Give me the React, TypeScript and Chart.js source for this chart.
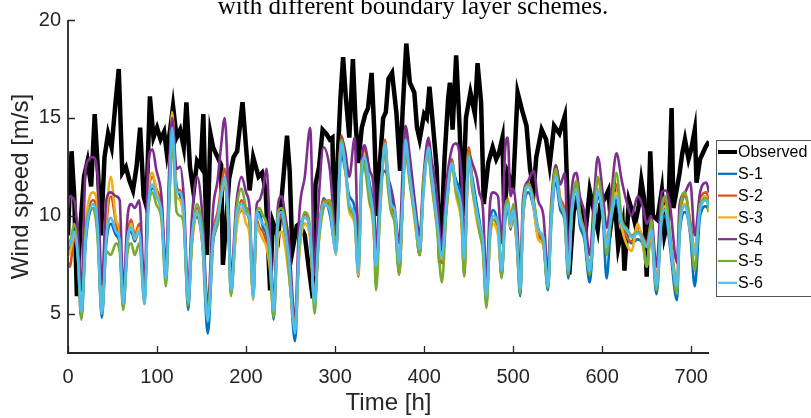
import React, { useEffect, useRef } from "react";
import { Chart, registerables } from "chart.js";

Chart.register(...registerables);

const titleText = "with different boundary layer schemes.";
const xTitle = "Time [h]";
const yTitle = "Wind speed [m/s]";
const xTicks = [0, 100, 200, 300, 400, 500, 600, 700];
const yTicks = [5, 10, 15, 20];
const seriesNames = ["Observed", "S-1", "S-2", "S-3", "S-4", "S-5", "S-6"];
const seriesColors = ["#000000", "#0072BD", "#D95319", "#EDB120", "#7E2F8E", "#77AC30", "#4DBEEE"];

const obsHours = [
  0, 2, 4, 7, 10, 14, 18, 22, 26, 30,
  34, 37, 41, 45, 49, 53, 57, 61, 65, 69,
  73, 77, 81, 85, 88, 92, 96, 100, 104, 108,
  111, 115, 118, 122, 126, 130, 133, 137, 141, 145,
  149, 152, 156, 160, 163, 168, 172, 174, 179, 181,
  186, 190, 196, 200, 204, 208, 214, 218, 222, 227,
  230, 236, 242, 246, 249, 252, 257, 260, 266, 270,
  275, 278, 282, 286, 290, 294, 297, 299, 303, 306,
  309, 312, 316, 320, 323, 326, 330, 334, 337, 341,
  344, 347, 350, 354, 357, 360, 364, 369, 373, 376,
  380, 384, 389, 392, 395, 400, 403, 406, 410, 414,
  418, 423, 427, 429, 432, 436, 440, 443, 447, 452,
  457, 460, 464, 467, 472, 477, 481, 484, 488, 490,
  494, 500, 505, 510, 515, 519, 523, 526, 532, 537,
  541, 546, 552, 558, 561, 563, 568, 573, 578, 582,
  586, 591, 595, 598, 602, 607, 610, 614, 618, 623,
  625, 630, 634, 637, 641, 644, 647, 650, 654, 657,
  662, 667, 670, 674, 678, 680, 684, 687, 690, 693,
  697, 700, 704, 706, 710, 713, 716, 720,
];

const observed = [
  9.0, 11.5, 13.3, 11.0, 5.9, 9.5, 12.0, 12.8, 11.5, 15.2,
  12.0, 9.0, 13.0, 14.2, 13.5, 15.6, 17.5, 12.2, 12.5, 11.8,
  11.3, 12.5, 14.5, 11.0, 10.5, 16.1, 14.0, 14.5, 13.9, 14.3,
  13.2, 14.5, 15.6, 14.0, 14.4, 13.5, 15.8, 12.5, 11.2, 12.8,
  12.5, 15.2, 8.0, 14.2, 13.5, 13.0, 12.6, 7.5, 10.5, 11.9,
  13.0, 13.3, 15.8, 13.5, 11.3, 13.0, 12.0, 12.2, 11.3, 6.2,
  9.7, 8.9, 12.0, 14.1, 12.3, 8.2, 9.5, 9.6, 9.0, 7.5,
  5.8, 11.6, 12.5, 14.4, 14.2, 13.9, 14.0, 9.3, 13.0, 16.0,
  18.1, 16.1, 14.0, 18.0, 14.8, 12.7, 14.5, 15.2, 15.5, 17.3,
  14.4, 10.0, 12.5, 15.0, 15.3, 17.0, 17.3, 15.2, 12.3, 15.5,
  18.8, 16.8, 16.3, 14.5, 13.9, 15.2, 15.0, 16.6, 14.6, 12.5,
  7.6, 13.0, 16.0, 16.8, 14.4, 18.2, 14.4, 10.0, 15.0, 16.3,
  15.2, 17.8, 15.8, 10.6, 12.7, 13.5, 12.9, 13.2, 14.0, 10.2,
  12.2, 11.5, 16.3, 15.4, 14.6, 12.4, 11.3, 13.0, 14.4, 13.9,
  12.6, 14.6, 14.2, 15.1, 11.0, 7.0, 10.2, 11.0, 10.0, 9.5,
  11.3, 10.2, 9.3, 10.6, 10.8, 11.3, 9.6, 10.9, 8.4, 9.6,
  7.2, 10.8, 10.2, 9.6, 10.5, 11.8, 10.9, 6.9, 13.3, 10.0,
  9.8, 11.3, 9.0, 9.8, 15.5, 10.4, 11.4, 12.2, 13.2, 13.9,
  12.9, 13.4, 14.4, 11.7, 12.9, 13.2, 13.5, 13.8,
];

const modelHours = [
  0, 2, 7, 11, 15, 20, 28, 33, 38, 43,
  48, 54, 58, 62, 67, 71, 75, 80, 86, 90,
  95, 99, 105, 110, 114, 117, 122, 126, 130, 135,
  139, 145, 151, 157, 163, 168, 172, 176, 180, 183,
  189, 195, 200, 204, 208, 212, 215, 219, 223, 227,
  231, 236, 240, 244, 248, 255, 260, 266, 272, 277,
  281, 287, 294, 301, 307, 311, 316, 322, 326, 330,
  333, 339, 343, 346, 351, 356, 359, 363, 367, 372,
  376, 379, 384, 390, 395, 399, 405, 408, 414, 420,
  425, 431, 436, 442, 445, 450, 454, 459, 462, 466,
  470, 474, 477, 483, 487, 491, 494, 497, 500, 504,
  508, 511, 517, 523, 528, 534, 539, 543, 548, 553,
  558, 562, 566, 571, 575, 580, 586, 591, 595, 601,
  605, 610, 616, 622, 627, 633, 640, 646, 650, 655,
  661, 667, 671, 676, 684, 687, 693, 699, 704, 710,
  717, 720,
];

const s1 = [
  8.2, 8.4, 9.0, 7.8, 4.8, 8.7, 10.4, 9.4, 4.8, 8.6,
  9.6, 9.0, 8.6, 5.3, 8.7, 9.2, 8.7, 9.4, 5.7, 10.6,
  11.4, 11.2, 10.5, 6.7, 11.2, 14.0, 11.5, 11.0, 10.0, 5.2,
  8.6, 10.0, 8.5, 4.0, 8.6, 9.6, 11.2, 11.6, 9.7, 6.0,
  9.6, 10.3, 10.4, 9.7, 5.9, 10.0, 10.2, 9.4, 9.1, 8.0,
  4.7, 9.6, 10.0, 9.0, 7.6, 3.6, 8.6, 9.6, 9.0, 5.7,
  8.4, 10.9, 10.1, 8.3, 13.2, 12.4, 11.0, 10.4, 7.4, 12.0,
  12.8, 11.6, 10.4, 8.0, 11.2, 13.4, 12.0, 10.9, 10.0, 7.2,
  10.8, 13.6, 12.3, 10.2, 8.0, 11.2, 13.2, 12.0, 10.3, 7.6,
  10.4, 12.4, 11.8, 10.6, 7.5, 12.8, 12.0, 10.6, 9.8, 8.5,
  6.0, 9.6, 10.3, 9.4, 6.9, 9.7, 10.4, 9.3, 10.0, 8.6,
  5.9, 9.7, 11.2, 10.4, 9.0, 8.6, 6.2, 9.7, 11.7, 10.3,
  9.7, 6.8, 10.0, 11.0, 9.5, 8.8, 6.6, 9.5, 11.0, 9.7,
  6.8, 9.7, 10.7, 9.3, 9.0, 8.6, 8.8, 8.5, 7.6, 9.0,
  6.0, 9.7, 10.0, 8.5, 5.7, 9.0, 10.2, 9.0, 6.4, 10.0,
  10.5, 10.2,
];

const s2 = [
  7.6, 7.4, 8.8, 8.3, 5.6, 9.3, 10.8, 10.2, 5.4, 9.4,
  11.0, 9.6, 8.6, 5.9, 9.0, 9.8, 9.0, 9.6, 5.9, 10.8,
  12.0, 11.4, 10.4, 7.0, 12.0, 15.2, 11.4, 11.3, 10.0, 5.8,
  8.6, 10.4, 8.8, 5.0, 9.1, 10.2, 11.4, 12.4, 10.2, 6.4,
  9.4, 10.8, 10.2, 9.6, 5.9, 9.8, 9.4, 9.2, 8.6, 7.5,
  5.5, 9.5, 10.0, 9.0, 7.2, 4.4, 8.4, 10.1, 9.0, 5.6,
  8.6, 10.8, 10.5, 8.2, 14.1, 12.9, 10.5, 10.0, 6.9, 12.6,
  13.5, 11.0, 9.7, 7.2, 10.7, 13.9, 12.4, 10.4, 10.1, 7.0,
  10.8, 14.1, 12.2, 9.8, 8.0, 11.3, 13.8, 12.5, 9.8, 7.6,
  10.4, 12.9, 11.3, 10.0, 7.0, 13.5, 11.9, 10.1, 9.4, 8.5,
  5.6, 9.0, 9.8, 9.4, 7.0, 10.2, 10.9, 9.8, 10.4, 8.8,
  6.3, 10.0, 11.7, 10.8, 9.1, 8.6, 6.4, 10.2, 12.4, 10.9,
  10.2, 7.4, 10.5, 11.6, 10.1, 9.3, 7.4, 10.2, 11.9, 10.4,
  8.6, 10.3, 11.6, 9.8, 9.0, 8.7, 9.4, 8.9, 8.6, 9.6,
  6.6, 10.4, 10.8, 9.0, 6.7, 9.6, 11.0, 9.7, 8.2, 10.8,
  11.2, 10.6,
];

const s3 = [
  8.0, 8.1, 9.0, 8.6, 5.4, 9.6, 11.2, 10.6, 5.3, 9.8,
  12.0, 9.8, 9.2, 5.8, 8.6, 9.6, 8.8, 9.4, 5.8, 11.0,
  12.2, 11.3, 10.0, 6.9, 12.2, 15.3, 11.0, 10.8, 9.6, 5.7,
  8.4, 10.1, 8.6, 4.8, 8.8, 9.6, 11.0, 11.8, 9.6, 6.3,
  9.2, 10.4, 9.6, 9.0, 5.7, 9.6, 9.2, 8.8, 8.4, 7.2,
  4.9, 8.8, 9.2, 8.4, 7.0, 4.3, 8.2, 9.6, 8.8, 5.4,
  8.2, 10.4, 10.8, 8.0, 13.9, 12.6, 10.2, 9.6, 7.0, 12.4,
  13.2, 10.8, 9.4, 7.4, 10.5, 13.6, 12.0, 10.2, 9.8, 7.3,
  10.6, 13.8, 11.8, 9.5, 8.2, 11.0, 13.4, 12.0, 9.6, 7.8,
  10.2, 12.6, 11.0, 9.6, 7.2, 13.0, 11.4, 9.8, 9.2, 8.3,
  5.7, 8.8, 9.6, 9.0, 7.1, 10.1, 10.8, 9.4, 10.2, 8.6,
  6.3, 9.8, 11.6, 10.4, 8.8, 8.5, 6.5, 9.9, 12.6, 10.7,
  9.8, 7.3, 10.2, 11.4, 9.9, 9.2, 7.3, 9.7, 11.4, 10.0,
  8.5, 9.9, 11.2, 9.4, 8.6, 8.2, 9.6, 8.4, 7.4, 9.1,
  6.5, 10.1, 10.5, 8.8, 6.5, 9.4, 10.6, 9.2, 8.3, 10.6,
  11.0, 10.2,
];

const s4 = [
  10.4, 11.0, 10.8, 9.2, 6.2, 12.5, 13.0, 12.2, 6.5, 10.8,
  11.2, 11.0, 10.8, 6.2, 10.0, 10.6, 10.4, 10.8, 6.4, 12.6,
  13.4, 12.4, 11.0, 7.4, 12.8, 15.0, 12.4, 12.5, 11.0, 6.2,
  9.8, 12.0, 10.0, 5.4, 10.4, 11.8, 13.6, 15.0, 11.4, 6.8,
  10.6, 12.0, 11.2, 10.4, 6.4, 10.6, 10.8, 11.4, 12.4, 9.0,
  5.6, 10.6, 11.0, 10.0, 8.8, 4.8, 10.2, 12.0, 14.5, 7.0,
  10.4, 13.5, 12.4, 9.0, 14.0, 13.4, 12.0, 14.0, 8.4, 12.8,
  13.6, 12.3, 11.6, 8.4, 11.6, 12.3, 12.0, 11.4, 10.4, 8.6,
  12.4, 14.6, 13.0, 10.6, 9.0, 11.8, 14.0, 13.0, 11.2, 8.4,
  11.6, 13.4, 13.7, 12.0, 8.6, 13.2, 12.7, 12.0, 11.2, 10.4,
  6.8, 10.6, 11.2, 11.0, 8.6, 13.4, 14.0, 11.0, 11.4, 10.0,
  7.0, 10.8, 11.8, 12.3, 10.8, 10.0, 7.2, 10.8, 12.6, 11.6,
  12.2, 8.0, 11.4, 12.2, 11.0, 10.2, 8.0, 11.0, 13.0, 11.0,
  9.4, 11.0, 13.2, 11.8, 10.8, 10.0, 11.0, 10.4, 9.6, 10.0,
  7.4, 11.2, 11.3, 10.6, 7.6, 10.6, 11.2, 11.7, 9.0, 11.2,
  11.7, 11.2,
];

const s5 = [
  8.8, 8.6, 9.6, 8.0, 4.7, 9.4, 10.4, 9.0, 5.0, 8.2,
  8.0, 8.6, 8.2, 5.2, 8.2, 8.6, 8.0, 8.6, 5.5, 10.2,
  11.2, 10.6, 9.8, 6.4, 11.0, 13.8, 10.2, 10.0, 9.6, 5.4,
  8.6, 10.6, 9.2, 4.9, 9.0, 9.6, 11.2, 11.4, 10.0, 5.9,
  10.2, 11.4, 10.4, 9.8, 5.9, 10.2, 10.4, 10.0, 9.6, 7.6,
  4.8, 10.2, 10.4, 9.6, 7.2, 4.5, 8.6, 10.2, 9.4, 5.0,
  8.4, 10.4, 10.8, 8.4, 13.9, 12.8, 10.4, 9.8, 7.2, 12.8,
  12.6, 10.6, 9.8, 6.2, 10.8, 13.4, 11.6, 10.2, 9.6, 7.0,
  10.8, 13.2, 11.6, 9.8, 8.0, 11.6, 13.2, 11.8, 9.6, 6.6,
  10.2, 12.6, 11.2, 9.8, 6.9, 13.2, 11.4, 10.2, 9.2, 8.2,
  5.3, 9.0, 9.8, 9.8, 6.8, 10.4, 10.8, 9.6, 10.6, 9.0,
  6.0, 10.4, 11.6, 10.8, 9.4, 8.6, 6.3, 10.4, 12.4, 10.6,
  9.8, 7.0, 10.4, 11.8, 10.2, 9.0, 7.0, 10.2, 12.0, 10.2,
  8.0, 10.2, 12.2, 9.8, 9.4, 9.0, 9.2, 8.6, 7.4, 9.8,
  6.2, 10.4, 11.0, 9.2, 6.0, 9.8, 11.2, 9.4, 7.2, 10.6,
  10.9, 10.4,
];

const s6 = [
  8.6, 8.5, 9.2, 8.0, 5.1, 8.9, 10.6, 9.6, 5.0, 8.9,
  9.9, 9.2, 8.8, 5.5, 8.9, 9.4, 8.9, 9.2, 5.5, 10.4,
  11.6, 11.0, 10.2, 6.8, 11.6, 14.5, 11.2, 11.2, 10.2, 5.6,
  8.9, 10.2, 8.8, 4.6, 8.9, 9.9, 11.0, 12.0, 9.9, 6.2,
  9.9, 10.6, 10.1, 9.9, 5.8, 10.2, 9.9, 9.6, 9.3, 8.2,
  5.1, 9.9, 10.2, 9.2, 7.9, 4.0, 8.9, 9.9, 9.2, 5.5,
  8.6, 10.6, 10.3, 8.1, 13.7, 12.7, 10.6, 10.0, 7.1, 12.3,
  13.0, 11.3, 10.0, 7.4, 10.9, 13.7, 12.3, 10.6, 10.3, 7.6,
  11.0, 13.9, 12.0, 10.0, 8.3, 11.0, 13.5, 12.3, 10.0, 7.9,
  10.6, 12.7, 11.5, 10.3, 7.8, 13.0, 11.7, 10.3, 9.6, 8.8,
  5.9, 9.3, 10.0, 9.6, 7.2, 10.0, 10.6, 9.6, 10.3, 8.9,
  6.2, 10.0, 11.5, 10.6, 9.3, 8.9, 6.4, 10.0, 12.0, 10.6,
  10.0, 7.2, 10.3, 11.3, 9.8, 9.1, 7.2, 9.8, 11.3, 10.0,
  8.4, 10.0, 11.0, 9.6, 9.3, 8.9, 9.1, 8.8, 8.4, 9.3,
  6.4, 10.0, 10.3, 8.8, 6.4, 9.3, 10.5, 9.3, 8.0, 10.3,
  10.8, 10.5,
];

const modelSeries = [s1, s2, s3, s4, s5, s6];

const FONT = '"Liberation Sans", Arial, Helvetica, sans-serif';
const AXIS_COLOR = "#262626";

const decorPlugin = {
  id: "decor",
  afterDraw(chart: any) {
    const { ctx, chartArea, scales } = chart;
    const xs = scales.x;
    const ys = scales.y;
    ctx.save();
    ctx.strokeStyle = AXIS_COLOR;
    ctx.lineWidth = 1.8;
    ctx.beginPath();
    ctx.moveTo(chartArea.left, chartArea.top);
    ctx.lineTo(chartArea.left, chartArea.bottom);
    ctx.lineTo(chartArea.right, chartArea.bottom);
    ctx.stroke();
    ctx.lineWidth = 1.3;
    ctx.beginPath();
    for (const v of xTicks) {
      const px = Math.round(xs.getPixelForValue(v)) + 0.5;
      ctx.moveTo(px, chartArea.bottom);
      ctx.lineTo(px, chartArea.bottom - 7);
    }
    for (const v of yTicks) {
      const py = Math.round(ys.getPixelForValue(v)) + 0.5;
      ctx.moveTo(chartArea.left, py);
      ctx.lineTo(chartArea.left + 7, py);
    }
    ctx.stroke();

    ctx.fillStyle = "#000";
    ctx.font = '25px "Liberation Serif", "Times New Roman", serif';
    ctx.textAlign = "center";
    ctx.textBaseline = "alphabetic";
    ctx.fillText(titleText, 413, 14);

    const lx = 716;
    const ly = 140;
    const lw = 110;
    const lh = 156;
    ctx.fillStyle = "#fff";
    ctx.fillRect(lx, ly, lw, lh);
    ctx.strokeStyle = "#555";
    ctx.lineWidth = 1;
    ctx.strokeRect(lx + 0.5, ly + 0.5, lw, lh);
    ctx.font = "16px " + FONT;
    ctx.textAlign = "left";
    ctx.textBaseline = "middle";
    seriesNames.forEach((name, i) => {
      const y = ly + 12 + i * 21.8;
      ctx.strokeStyle = seriesColors[i];
      ctx.lineWidth = i === 0 ? 4 : 2.2;
      ctx.beginPath();
      ctx.moveTo(lx + 2, y);
      ctx.lineTo(lx + 21, y);
      ctx.stroke();
      ctx.fillStyle = "#000";
      ctx.fillText(name, lx + 22, y + 1);
    });
    ctx.restore();
  },
};

export default function App() {
  const canvasRef = useRef<HTMLCanvasElement | null>(null);

  useEffect(() => {
    const canvas = canvasRef.current;
    if (!canvas) return;
    const datasets: any[] = [];
    datasets.push({
      label: seriesNames[0],
      data: obsHours.map((h, i) => ({ x: h, y: observed[i] })),
      borderColor: seriesColors[0],
      borderWidth: 4.5,
      pointRadius: 0,
      tension: 0,
      fill: false,
      order: 7,
    });
    modelSeries.forEach((vals, k) => {
      datasets.push({
        label: seriesNames[k + 1],
        data: modelHours.map((h, i) => ({ x: h, y: vals[i] })),
        borderColor: seriesColors[k + 1],
        borderWidth: 2.6,
        pointRadius: 0,
        tension: 0.3,
        cubicInterpolationMode: "monotone",
        fill: false,
        order: 6 - k,
      });
    });

    const chart = new Chart(canvas, {
      type: "line",
      data: { datasets },
      plugins: [decorPlugin],
      options: {
        responsive: false,
        animation: false,
        maintainAspectRatio: false,
        layout: { padding: { left: 0, right: 102, top: 20, bottom: 0 } },
        plugins: {
          legend: { display: false },
          tooltip: { enabled: false },
          title: { display: false },
        },
        scales: {
          x: {
            type: "linear",
            min: 0,
            max: 720,
            grid: { display: false, drawTicks: false },
            border: { display: false },
            afterBuildTicks: (scale: any) => {
              scale.ticks = xTicks.map((v) => ({ value: v }));
            },
            afterFit: (scale: any) => {
              scale.height = 65;
            },
            ticks: {
              autoSkip: false,
              maxRotation: 0,
              padding: 12,
              color: AXIS_COLOR,
              font: { family: FONT, size: 20 },
            },
            title: {
              display: true,
              text: xTitle,
              color: AXIS_COLOR,
              font: { family: FONT, size: 24 },
              padding: { top: 0, bottom: 0 },
            },
          },
          y: {
            type: "linear",
            min: 3,
            max: 20,
            grid: { display: false, drawTicks: false },
            border: { display: false },
            afterBuildTicks: (scale: any) => {
              scale.ticks = yTicks.map((v) => ({ value: v }));
            },
            afterFit: (scale: any) => {
              scale.width = 68;
            },
            ticks: {
              padding: 7,
              color: AXIS_COLOR,
              font: { family: FONT, size: 20 },
            },
            title: {
              display: true,
              text: yTitle,
              color: AXIS_COLOR,
              font: { family: FONT, size: 24 },
              padding: { top: 7, bottom: 0 },
            },
          },
        },
      },
    });
    return () => chart.destroy();
  }, []);

  return (
    <div
      style={{
        position: "fixed",
        left: 0,
        top: 0,
        width: 811,
        height: 418,
        background: "#fff",
        overflow: "hidden",
      }}
    >
      <canvas ref={canvasRef} width={811} height={418} style={{ display: "block", width: 811, height: 418 }} />
    </div>
  );
}
